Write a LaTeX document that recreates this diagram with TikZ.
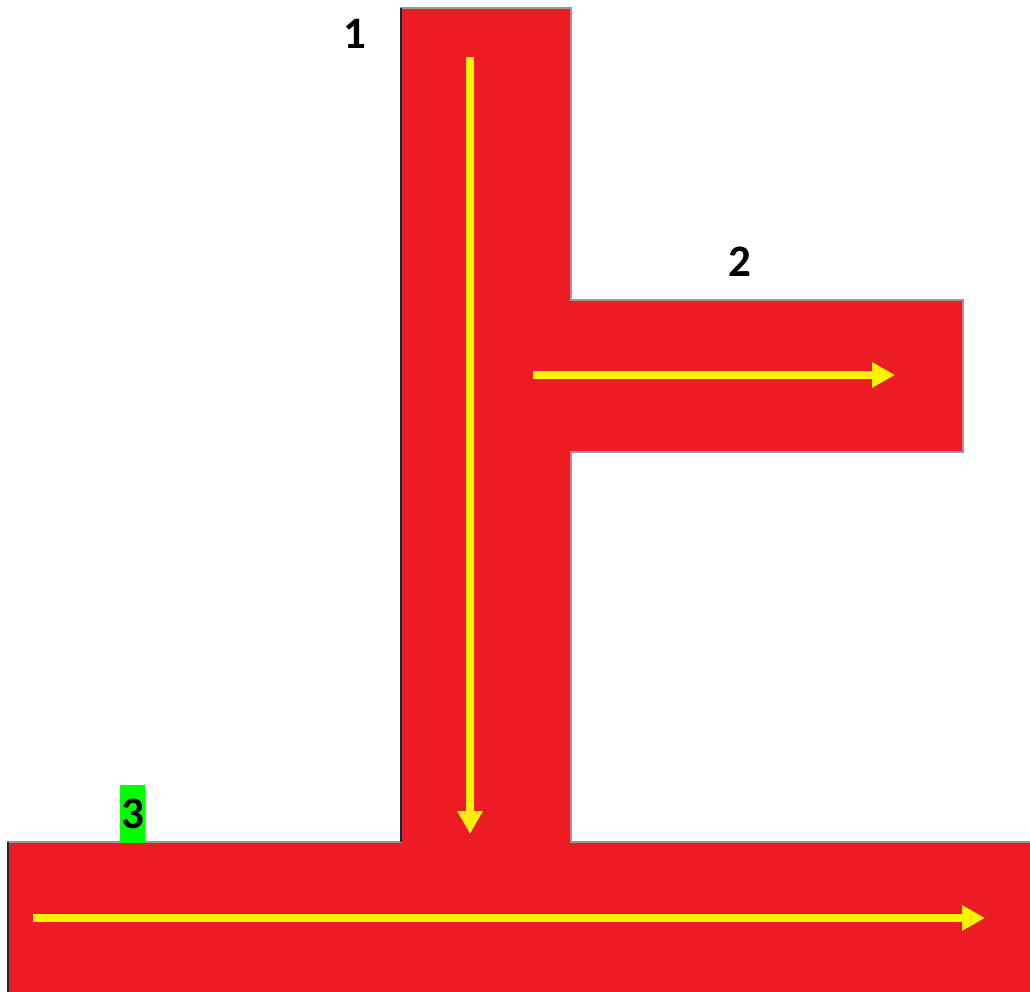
\documentclass[tikz,border=0pt]{standalone}
\usepackage{fontspec}
\setmainfont{Carlito}
\usepackage{xcolor}
\usetikzlibrary{arrows.meta}
\definecolor{pipered}{HTML}{ED1C24}
\definecolor{taggreen}{HTML}{00FF00}

\begin{document}
\begin{tikzpicture}[x=1pt, y=-1pt,
  pipe/.style={fill=pipered, draw=black!40, line width=1.5pt},
  rim/.style={draw=black!85, line width=2.5pt},
  flow/.style={draw=yellow, line width=8pt, -{Triangle[length=23pt, width=24pt]}},
  num/.style={font=\fontsize{45}{45}\selectfont\bfseries, inner sep=0pt}
]
\useasboundingbox[fill=white] (0,0) rectangle (1030,992);

% pipe outline
\draw[pipe] (401,8) -- (571,8) -- (571,300) -- (963,300) -- (963,452)
  -- (571,452) -- (571,842) -- (1034,842) -- (1034,996) -- (8,996)
  -- (8,842) -- (401,842) -- cycle;
\draw[rim] (401,8) -- (401,842);
\draw[rim] (8,842) -- (8,992);

% flow directions
\coordinate (topin) at (470,57);
\coordinate (topout) at (470,834);
\coordinate (sidein) at (533,375);
\coordinate (sideout) at (895,375);
\coordinate (botin) at (33,918);
\coordinate (botout) at (985,918);
\draw[flow] (topin) -- (topout);
\draw[flow] (sidein) -- (sideout);
\draw[flow] (botin) -- (botout);

% labels
\node[num] (lab1) at (355,34) {1};
\node[num] (lab2) at (739.5,262) {2};
\node[num, fill=taggreen, minimum width=25pt, minimum height=58pt,
  text depth=-3.5pt] (lab3) at (132.5,814) {3};
\end{tikzpicture}
\end{document}
